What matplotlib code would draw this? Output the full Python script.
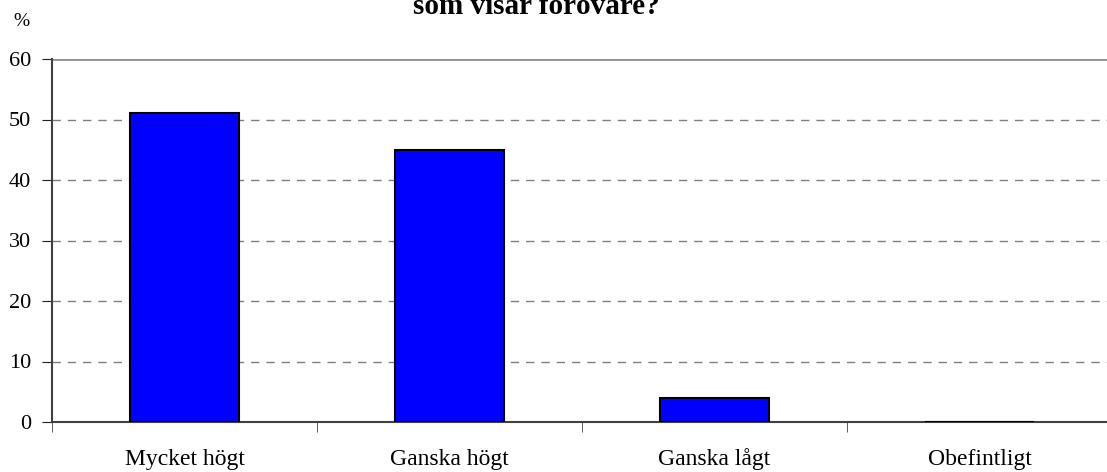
import matplotlib.pyplot as plt
import numpy as np

categories = ['Mycket högt', 'Ganska högt', 'Ganska lågt', 'Obefintligt']
values = [51, 45, 4, 0]
yticks = [0, 10, 20, 30, 40, 50, 60]

plt.rcParams['font.family'] = ['Liberation Serif', 'DejaVu Serif']

W, H = 1107, 472
fig = plt.figure(figsize=(W / 100, H / 100), dpi=100)
# plot area runs a bit past the right edge, as in the original
left, right, top, bottom = 52, 1112, 59, 422
ax = fig.add_axes([left / W, 1 - bottom / H, (right - left) / W, (bottom - top) / H])

x = np.arange(len(categories))
ax.bar(x, values, width=0.41, color='#0000ff', edgecolor='black', linewidth=1.5, zorder=3)

ax.set_xlim(-0.5, len(categories) - 0.5)
ax.set_ylim(0, 60)
ax.set_yticks(yticks)
ax.set_yticklabels([str(v) for v in yticks], fontsize=16)

for v in yticks[1:-1]:
    ax.axhline(v, color='#808080', linestyle=(0, (6, 5)), linewidth=1, zorder=1)
ax.axhline(60, color='#909090', linewidth=2, zorder=1)

ax.set_xticks(x)
ax.set_xticklabels(categories, fontsize=17)
# same baseline for every category label
for lab in ax.get_xticklabels():
    lab.set_verticalalignment('baseline')
ax.tick_params(axis='x', length=0, pad=31)
# category separator ticks
ax.set_xticks(np.arange(len(categories) + 1) - 0.5, minor=True)
ax.tick_params(axis='x', which='minor', length=7, direction='out', color='#404040')
ax.tick_params(axis='y', length=7, direction='out', color='#202020', pad=8)

for s in ['top', 'right']:
    ax.spines[s].set_visible(False)
ax.spines['left'].set_color('#404040')
ax.spines['bottom'].set_color('#404040')
ax.spines['left'].set_linewidth(1.5)
ax.spines['bottom'].set_linewidth(1.5)

fig.text(21 / W, 1 - 22 / H, '%', fontsize=14, ha='center', va='center')
fig.text(536 / W, 1 - 14 / H, 'som visar förövare?', fontsize=21, fontweight='bold',
         ha='center', va='baseline')

fig.savefig('out.png', dpi=100)
